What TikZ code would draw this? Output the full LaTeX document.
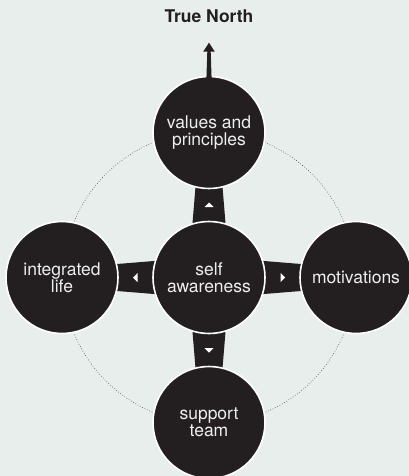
\documentclass[tikz,border=0pt]{standalone}
\usepackage{fontspec}
\setmainfont{TeX Gyre Heros}
\usetikzlibrary{calc,backgrounds}
\definecolor{paper}{HTML}{E8EEEB}
\definecolor{ink}{HTML}{231F20}
\definecolor{label}{HTML}{EEEEEE}
\begin{document}
\begin{tikzpicture}[x=1pt,y=-1pt,
    hub/.style={circle,fill=ink,draw=white,line width=1.6pt,minimum size=112pt,
      inner sep=0pt,text=label,align=center,font=\fontsize{17.5}{17.5}\selectfont},
    link/.style={fill=ink},
    tip/.style={fill=white},
    orbit/.style={draw=black!75,line width=0.6pt,dotted}]
  \useasboundingbox (0,0) rectangle (409,476);
  \node[hub] (self) at (209,277.5) {self\\awareness};
  \node[hub] (values) at (209,132.5) {values and\\principles};
  \node[hub] (motivations) at (356,277.5) {motivations};
  \node[hub] (support) at (209,422.5) {support\\team};
  \node[hub] (integrated) at (62,277.5) {integrated\\life};
  \node[text=ink,anchor=base,font=\bfseries\fontsize{17.5}{17.5}\selectfont] (title) at (209,22.7) {True North};
  \coordinate (north) at (209,42.7);
  % arrow up out of the top circle
  \fill[link] ([xshift=-2.6pt,yshift=-3pt]values.north) -- ([xshift=-1.7pt,yshift=-9pt]north)
    -- ([xshift=-5.8pt,yshift=-9pt]north) -- (north) -- ([xshift=5.8pt,yshift=-9pt]north)
    -- ([xshift=1.7pt,yshift=-9pt]north) -- ([xshift=2.6pt,yshift=-3pt]values.north) -- cycle;
  \begin{scope}[on background layer]
    \fill[paper] (0,0) rectangle (409,476);
    \draw[orbit] (self.center) circle[radius=146pt];
    \foreach \n/\a in {values/90, motivations/0, support/-90, integrated/180} {
      \fill[link] ($(self.center)!21pt!90:(\n.center)$) -- ($(\n.center)!9pt!-90:(self.center)$)
        -- ($(\n.center)!9pt!90:(self.center)$) -- ($(self.center)!21pt!-90:(\n.center)$) -- cycle;
      \fill[tip,shift={($(self.center)!0.5!(\n.center)$)},rotate=\a]
        (2.5,0) -- (-2,4.5) -- (-2,-4.5) -- cycle;
    }
  \end{scope}
\end{tikzpicture}
\end{document}
